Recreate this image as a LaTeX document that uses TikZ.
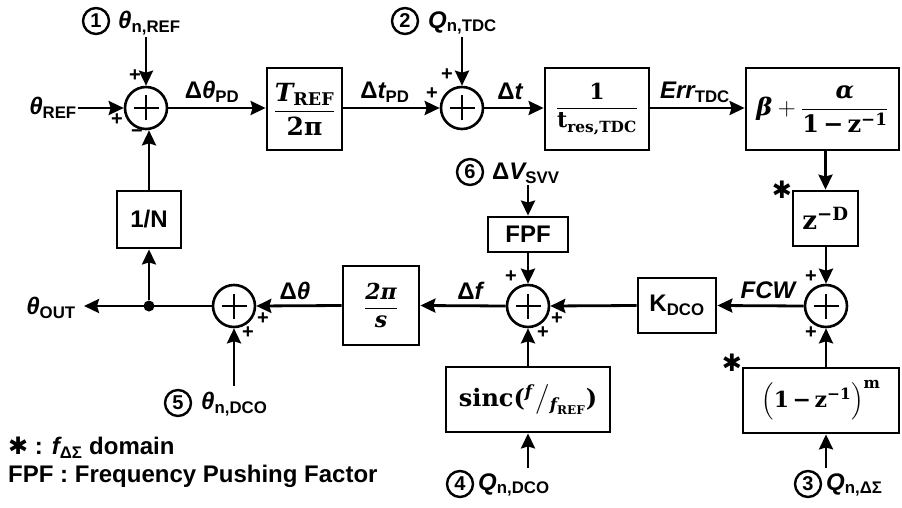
\documentclass[tikz,border=0pt]{standalone}
\usepackage{amsmath}
\usepackage[no-math]{fontspec}
\setmainfont{Liberation Sans}
\newfontfamily\djv{DejaVu Sans}
\newfontfamily\bser{DejaVu Serif}
\usetikzlibrary{arrows.meta}
\newcommand\sig[2]{{\itshape #1}\textsubscript{#2}}
\newcommand\astk{{\djv ✱}}
\newcommand\B[1]{\text{\bser\bfseries\upshape #1}}
\newcommand\BI[1]{\text{\bser\bfseries\itshape #1}}
\begin{document}
\begin{tikzpicture}[x=1pt,y=-1pt,
  every node/.style={font=\fontsize{24}{28}\selectfont\bfseries},
  arr/.style={line width=2.8pt,-{Stealth[length=15pt,width=14pt,inset=2pt]}},
  blk/.style={draw,line width=2.8pt,inner sep=0pt,align=center},
  mth/.style={blk,font=\fontsize{22}{26}\selectfont},
  sumnode/.style={circle,draw,line width=2.6pt,minimum size=42pt,inner sep=0pt,
    path picture={
      \draw[line width=2.6pt] ([xshift=-12.5pt]path picture bounding box.center) -- ([xshift=12.5pt]path picture bounding box.center);
      \draw[line width=2.6pt] ([yshift=-12.5pt]path picture bounding box.center) -- ([yshift=12.5pt]path picture bounding box.center);}},
  numc/.style={circle,draw,line width=2.4pt,minimum size=26pt,inner sep=0pt,font=\fontsize{20}{20}\selectfont\bfseries},
  sg/.style={font=\fontsize{20}{20}\selectfont\bfseries,inner sep=0pt},
  lbl/.style={inner sep=1pt}
]
\useasboundingbox (0,0) rectangle (902,508);

% summing junctions
\node[sumnode] (s1) at (146,108) {};
\node[sumnode] (s2) at (462,108) {};
\node[sumnode] (s3) at (826,306) {};
\node[sumnode] (s4) at (528,306) {};
\node[sumnode] (s5) at (234,306) {};

% blocks
\node[mth,minimum width=75pt,minimum height=82pt,font=\fontsize{25}{29}\selectfont] (b1) at (304.5,109) {$\dfrac{\BI{T}_{\B{REF}}}{\B{2π}}$};
\node[mth,minimum width=104pt,minimum height=82pt] (b2) at (597,109) {$\dfrac{\B{1}}{\B{t}_{\B{res,TDC}}}$};
\node[mth,minimum width=153pt,minimum height=82pt,font=\fontsize{24}{28}\selectfont] (b3) at (822.5,109) {$\BI{β}+\dfrac{\BI{α}}{\B{1}\,\B{−}\,\B{z}^{\B{−1}}}$};
\node[mth,minimum width=65pt,minimum height=55pt,font=\fontsize{26}{30}\selectfont] (zd) at (825.5,218.5) {$\B{z}^{\B{−D}}$};
\node[blk,minimum width=78pt,minimum height=55pt] (k) at (677,305.5) {K\textsubscript{DCO}};
\node[blk,minimum width=80pt,minimum height=35pt] (fpf) at (528,234.5) {FPF};
\node[mth,minimum width=76pt,minimum height=79pt] (tp) at (381,305.5) {$\dfrac{\BI{2π}}{\BI{s}}$};
\node[blk,minimum width=64pt,minimum height=57pt] (nn) at (149,219.5) {1/N};
\node[mth,minimum width=164pt,minimum height=65pt,font=\fontsize{24}{28}\selectfont] (sc) at (528,399.5) {$\B{sinc(}{}^{\BI{f}\,}\big/{}_{\BI{f}_{\B{REF}}}\B{)}$};
\node[mth,minimum width=156pt,minimum height=65pt] (bz) at (821,400.5) {$\Big(\B{1}\,\B{−}\,\B{z}^{\B{−1}}\Big)^{\B{m}}$};

% input labels
\node[lbl] (tref) at (53,108) {\sig{θ}{REF}};
\node[numc] (n1) at (96,21) {1};
\node[lbl,anchor=west] (l1) at (117,23) {\sig{θ}{n,REF}};
\node[numc] (n2) at (405,21) {2};
\node[lbl,anchor=west] (l2) at (427,23) {\sig{Q}{n,TDC}};
\node[numc] (n6) at (470,172) {6};
\node[lbl,anchor=west] (l6) at (491,173) {Δ\sig{V}{SVV}};
\node[numc] (n5) at (178,403) {5};
\node[lbl,anchor=west] (l5) at (200,404) {\sig{θ}{n,DCO}};
\node[numc] (n4) at (460,484) {4};
\node[lbl,anchor=west] (l4) at (477,485) {\sig{Q}{n,DCO}};
\node[numc] (n3) at (808,484) {3};
\node[lbl,anchor=west] (l3) at (825,485) {\sig{Q}{n,ΔΣ}};
\node[lbl] (tout) at (51,308) {\sig{θ}{OUT}};

\coordinate (c1) at (146,37);
\coordinate (c2) at (462,37);
\coordinate (c6) at (528,185);
\coordinate (c5) at (234,386);
\coordinate (c4) at (528,468);
\coordinate (c3) at (826,468);
\coordinate (out) at (84,306);

% connectors
\draw[arr] (tref.east |- s1) -- (s1.west);
\draw[arr] (c1) -- (s1.north);
\draw[arr] (s1.east) -- (b1.west |- s1);
\draw[arr] (b1.east |- s2) -- (s2.west);
\draw[arr] (c2) -- (s2.north);
\draw[arr] (s2.east) -- (b2.west |- s2);
\draw[arr] (b2.east |- s2) -- (b3.west |- s2);
\draw[arr] (zd.north |- b3.south) -- (zd.north);
\draw[arr] (zd.south -| s3) -- (s3.north);
\draw[arr] (s3.south |- bz.north) -- (s3.south);
\draw[arr] (c3) -- (c3 |- bz.south);
\draw[arr] (s3.west) -- (k.east);
\draw[arr] (k.west) -- (s4.east);
\draw[arr] (c6) -- (fpf.north);
\draw[arr] (fpf.south) -- (s4.north);
\draw[arr] (sc.north) -- (s4.south);
\draw[arr] (c4) -- (sc.south);
\draw[arr] (s4.west) -- (tp.east);
\draw[arr] (tp.west) -- (s5.east);
\draw[arr] (s5.west) -- (out);
\draw[arr] (c5) -- (s5.south);
\node[circle,fill,inner sep=0pt,minimum size=11pt] (dot) at (149,306) {};
\draw[arr] (dot) -- (nn.south);
\draw[arr] (nn.north) -- (nn.north |- s1.south);

% edge labels
\node[lbl] (e1) at (212,92) {Δ\sig{θ}{PD}};
\node[lbl] (e2) at (385,92) {Δ\sig{t}{PD}};
\node[lbl] (e3) at (510,91) {Δ{\itshape t}};
\node[lbl] (e4) at (695,92) {\sig{Err}{TDC}};
\node[lbl] (e5) at (768,290) {\itshape FCW};
\node[lbl] (e6) at (470,291) {Δ{\itshape f}};
\node[lbl] (e7) at (295,291) {Δ{\itshape θ}};

% signs
\node[sg] at (135,76) {+};
\node[sg] at (117,120) {+};
\node[sg] at (137,134) {−};
\node[sg] at (447,75) {+};
\node[sg] at (432,94) {+};
\node[sg] at (811,277) {+};
\node[sg] at (811,333) {+};
\node[sg] at (511,277) {+};
\node[sg] at (557,319) {+};
\node[sg] at (543,333) {+};
\node[sg] at (263,319) {+};
\node[sg] at (248,333) {+};

% asterisks
\node[inner sep=0pt] (a1) at (782,190) {\astk};
\node[inner sep=0pt] (a2) at (732,363) {\astk};

% legend
\node[anchor=west,inner sep=0pt] (lg1) at (8,448) {\astk{} : \sig{f}{ΔΣ} domain};
\node[anchor=west,inner sep=0pt] (lg2) at (8,476) {FPF : Frequency Pushing Factor};
\end{tikzpicture}
\end{document}
